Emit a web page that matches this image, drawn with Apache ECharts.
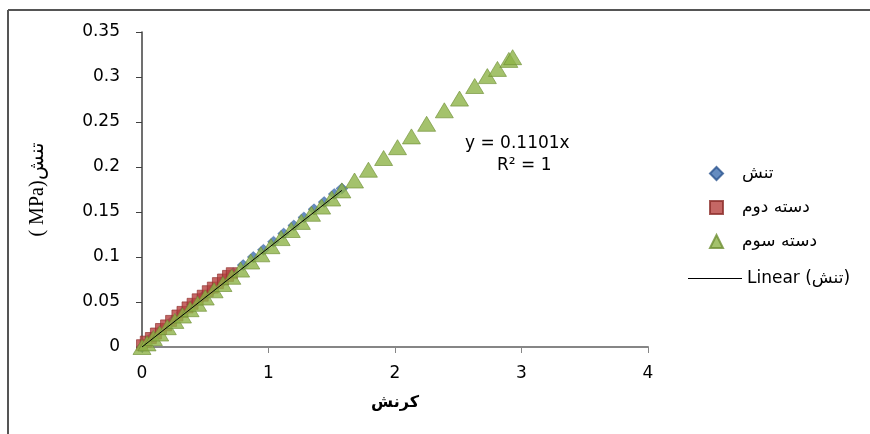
<!DOCTYPE html>
<html>
<head>
<meta charset="utf-8">
<script src="https://cdn.jsdelivr.net/npm/echarts@6/dist/echarts.min.js"></script>
<style>
  html, body { margin: 0; padding: 0; background: #fff; }
  #chart { width: 870px; height: 434px; }
</style>
</head>
<body>
<div id="chart"></div>
<script>
// سری تنش (لوزی آبی)
var stressX = [0, 0.08, 0.16, 0.24, 0.32, 0.40, 0.48, 0.56, 0.64, 0.72, 0.80, 0.88, 0.96, 1.04, 1.12, 1.20, 1.28, 1.36, 1.44, 1.52, 1.58];
var stressY = [0, 0.011, 0.020, 0.029, 0.038, 0.047, 0.056, 0.064, 0.073, 0.082, 0.091, 0.100, 0.108, 0.117, 0.126, 0.135, 0.144, 0.153, 0.161, 0.170, 0.176];
// دسته دوم (مربع قرمز)
var group2X = [0, 0.03, 0.07, 0.11, 0.15, 0.19, 0.23, 0.28, 0.32, 0.36, 0.40, 0.44, 0.48, 0.52, 0.56, 0.60, 0.64, 0.68, 0.71];
var group2Y = [0.002, 0.006, 0.010, 0.015, 0.020, 0.024, 0.029, 0.035, 0.039, 0.044, 0.048, 0.053, 0.057, 0.062, 0.066, 0.071, 0.075, 0.079, 0.082];
// دسته سوم (مثلث سبز)
var group3X = [0, 0.04, 0.09, 0.14, 0.20, 0.26, 0.32, 0.38, 0.44, 0.50, 0.57, 0.64, 0.71, 0.78, 0.86, 0.94, 1.02, 1.10, 1.18, 1.26, 1.34, 1.42, 1.50, 1.58, 1.68, 1.79, 1.91, 2.02, 2.13, 2.25, 2.39, 2.51, 2.63, 2.73, 2.81, 2.90, 2.93];
var group3Y = [0, 0.004, 0.010, 0.015, 0.022, 0.029, 0.035, 0.042, 0.048, 0.055, 0.063, 0.070, 0.078, 0.086, 0.095, 0.103, 0.112, 0.121, 0.130, 0.139, 0.148, 0.156, 0.165, 0.174, 0.185, 0.197, 0.210, 0.222, 0.234, 0.248, 0.263, 0.276, 0.290, 0.301, 0.309, 0.319, 0.322];
// خط روند
var trendX = [0, 1.58];
var trendY = [0, 0.174];

var xTicks = [0, 1, 2, 3, 4];
var yTicks = [0, 0.05, 0.1, 0.15, 0.2, 0.25, 0.3, 0.35];

var seriesNames = ['تنش', 'دسته دوم', 'دسته سوم', 'Linear (تنش)'];

var pairs = function(xs, ys) {
  return xs.map(function(x, i) { return [x, ys[i]]; });
};

var chart = echarts.init(document.getElementById('chart'));

var font = 'DejaVu Sans';

var option = {
  animation: false,
  backgroundColor: '#fff',
  grid: { left: 142, right: 222, top: 32, bottom: 87 },
  xAxis: {
    type: 'value',
    min: xTicks[0],
    max: xTicks[xTicks.length - 1],
    interval: 1,
    name: 'كرنش',
    nameLocation: 'middle',
    nameGap: 48,
    nameTextStyle: { fontFamily: font, fontSize: 16, fontWeight: 'bold', color: '#000' },
    axisLine: { show: true, lineStyle: { color: '#868686', width: 2 } },
    axisTick: { show: true, length: 6, lineStyle: { color: '#868686' } },
    axisLabel: { fontFamily: font, fontSize: 17, color: '#000', margin: 18 },
    splitLine: { show: false }
  },
  yAxis: {
    type: 'value',
    min: yTicks[0],
    max: yTicks[yTicks.length - 1],
    interval: 0.05,
    name: '( MPa)تنش',
    nameLocation: 'middle',
    nameGap: 94,
    nameRotate: 90,
    nameTextStyle: { fontFamily: 'Liberation Serif', fontSize: 20, color: '#000' },
    axisLine: { show: true, lineStyle: { color: '#404040', width: 1.5 } },
    axisTick: { show: true, length: 6, lineStyle: { color: '#404040' } },
    axisLabel: { fontFamily: font, fontSize: 17, color: '#000', margin: 22 },
    splitLine: { show: false }
  },
  legend: [{
    orient: 'vertical',
    left: 704,
    top: 160,
    itemGap: 17,
    itemWidth: 13,
    itemHeight: 13,
    data: seriesNames.slice(0, 3),
    textStyle: { fontFamily: font, fontSize: 17, color: '#000', padding: [0, 0, 0, 14] }
  }, {
    orient: 'vertical',
    left: 683,
    top: 265,
    itemWidth: 54,
    itemHeight: 1,
    icon: 'rect',
    data: [seriesNames[3]],
    textStyle: { fontFamily: font, fontSize: 17, color: '#000', padding: [0, 0, 0, 0] }
  }],
  graphic: [
    { type: 'line', shape: { x1: 8, y1: 10, x2: 870, y2: 10 }, style: { stroke: '#555', lineWidth: 2 } },
    { type: 'line', shape: { x1: 8, y1: 10, x2: 8, y2: 434 }, style: { stroke: '#555', lineWidth: 2 } },
    { type: 'text', left: 465, top: 135, style: { text: 'y = 0.1101x', font: '17px "DejaVu Sans"', fill: '#000' } },
    { type: 'text', left: 497, top: 157, style: { text: 'R² = 1', font: '17px "DejaVu Sans"', fill: '#000' } }
  ],
  series: [{
    name: seriesNames[0],
    type: 'scatter',
    symbol: 'diamond',
    symbolSize: [12, 11],
    z: 2,
    itemStyle: { color: '#3F6FB0', borderColor: '#2C5590', borderWidth: 0.5 },
    data: pairs(stressX, stressY)
  }, {
    name: seriesNames[1],
    type: 'scatter',
    symbol: 'rect',
    symbolSize: 11,
    z: 3,
    itemStyle: { color: '#B7413E', borderColor: '#8C2E2B', borderWidth: 0.8 },
    data: pairs(group2X, group2Y)
  }, {
    name: seriesNames[2],
    type: 'scatter',
    symbol: 'triangle',
    symbolSize: [18, 15],
    z: 4,
    itemStyle: { color: '#8DB347', borderColor: '#6E8F33', borderWidth: 0.8 },
    data: pairs(group3X, group3Y)
  }, {
    name: seriesNames[3],
    type: 'line',
    symbol: 'none',
    z: 5,
    lineStyle: { color: '#000', width: 1 },
    itemStyle: { color: '#000' },
    data: pairs(trendX, trendY)
  }]
};

chart.setOption(option);
</script>
</body>
</html>
